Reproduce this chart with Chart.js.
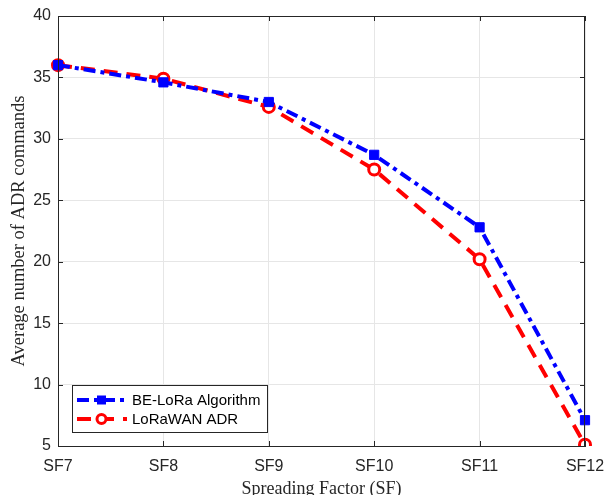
<!DOCTYPE html>
<html>
<head>
<meta charset="UTF-8">
<script src="https://cdn.jsdelivr.net/npm/chart.js"></script>
<style>
body { margin: 0; background: #fff; }
#wrap { width: 613px; height: 495px; }
</style>
</head>
<body>
<div id="wrap"><canvas id="chart" width="613" height="495"></canvas></div>
<script>
const sfLabels = ['SF7', 'SF8', 'SF9', 'SF10', 'SF11', 'SF12'];
const beLora = [36.0, 34.6, 33.0, 28.7, 22.8, 7.1];
const lorawanAdr = [36.0, 34.9, 32.6, 27.5, 20.2, 5.1];
const yTicks = [5, 10, 15, 20, 25, 30, 35, 40];

// box round the plot, inward ticks, legend in the lower left corner
const frame = {
  id: 'frame',
  afterDraw(c) {
    const { ctx, chartArea: a, scales: { x, y } } = c;
    ctx.save();
    ctx.strokeStyle = '#262626';
    ctx.lineWidth = 1;
    ctx.strokeRect(a.left + 0.5, a.top + 0.5, a.right - a.left - 1, a.bottom - a.top);
    ctx.beginPath();
    sfLabels.forEach((_, i) => {
      const px = Math.round(x.getPixelForValue(i)) + 0.5;
      ctx.moveTo(px, a.bottom); ctx.lineTo(px, a.bottom - 5);
      ctx.moveTo(px, a.top); ctx.lineTo(px, a.top + 5);
    });
    yTicks.forEach(v => {
      const py = Math.round(y.getPixelForValue(v)) + 0.5;
      ctx.moveTo(a.left, py); ctx.lineTo(a.left + 5, py);
      ctx.moveTo(a.right, py); ctx.lineTo(a.right - 5, py);
    });
    ctx.stroke();

    // legend
    const lx = 72, ly = 385, lw = 195, lh = 47;
    ctx.fillStyle = '#fff';
    ctx.fillRect(lx, ly, lw, lh);
    ctx.strokeStyle = '#262626';
    ctx.strokeRect(lx + 0.5, ly + 0.5, lw, lh);
    c.data.datasets.forEach((ds, i) => {
      const cy = ly + 15 + i * 19;
      ctx.strokeStyle = ds.borderColor;
      ctx.lineWidth = 4;
      ctx.setLineDash(ds.borderDash);
      ctx.beginPath(); ctx.moveTo(77, cy); ctx.lineTo(127, cy); ctx.stroke();
      ctx.setLineDash([]);
      if (ds.pointStyle === 'rect') {
        ctx.fillStyle = ds.borderColor;
        ctx.fillRect(97, cy - 4.5, 9, 9);
      } else {
        ctx.lineWidth = 3;
        ctx.fillStyle = '#fff';
        ctx.beginPath(); ctx.arc(101.5, cy, 4.5, 0, Math.PI * 2); ctx.fill(); ctx.stroke();
      }
      ctx.fillStyle = '#000';
      ctx.font = '15px "Liberation Sans", Arial, sans-serif';
      ctx.textBaseline = 'middle';
      ctx.fillText(ds.label, 132, cy + 1);
    });
    ctx.restore();
  }
};

new Chart(document.getElementById('chart'), {
  type: 'line',
  data: {
    labels: sfLabels,
    datasets: [
      { label: 'BE-LoRa Algorithm', data: beLora, borderColor: '#0000ff', backgroundColor: '#0000ff',
        borderWidth: 4, borderDash: [12, 5, 4, 5], pointStyle: 'rect', pointRadius: 6.5,
        pointBorderWidth: 1, pointBackgroundColor: '#0000ff', tension: 0 },
      { label: 'LoRaWAN ADR', data: lorawanAdr, borderColor: '#ff0000', backgroundColor: '#fff',
        borderWidth: 4, borderDash: [14, 9], pointStyle: 'circle', pointRadius: 5.5,
        pointBorderWidth: 3, pointBackgroundColor: '#fff', tension: 0 }
    ]
  },
  options: {
    responsive: false,
    animation: false,
    layout: { padding: { left: 0, right: 28, top: 16, bottom: 0 } },
    plugins: { legend: { display: false }, tooltip: { enabled: false } },
    scales: {
      x: {
        offset: false,
        grid: { color: '#e6e6e6', drawTicks: false },
        border: { color: '#262626' },
        ticks: { color: '#262626', padding: 11, font: { family: '"Liberation Sans", Arial, sans-serif', size: 16 } },
        title: { display: true, text: 'Spreading Factor (SF)', color: '#262626', padding: { top: 0, bottom: -5 },
          font: { family: '"Liberation Serif", "Times New Roman", serif', size: 18 } },
        afterFit: s => { s.height = 49; s.paddingLeft = 0; s.paddingRight = 0; }
      },
      y: {
        min: 5, max: 40,
        afterBuildTicks: s => { s.ticks = yTicks.map(v => ({ value: v })); },
        grid: { color: '#e6e6e6', drawTicks: false },
        border: { color: '#262626' },
        ticks: { color: '#262626', padding: 7, font: { family: '"Liberation Sans", Arial, sans-serif', size: 16 } },
        title: { display: true, text: 'Average number of ADR commands', color: '#262626', padding: { bottom: 0, top: 8 },
          font: { family: '"Liberation Serif", "Times New Roman", serif', size: 18.5 } },
        afterFit: s => { s.width = 58; s.paddingTop = 0; s.paddingBottom = 0; }
      }
    }
  },
  plugins: [frame]
});
</script>
</body>
</html>
